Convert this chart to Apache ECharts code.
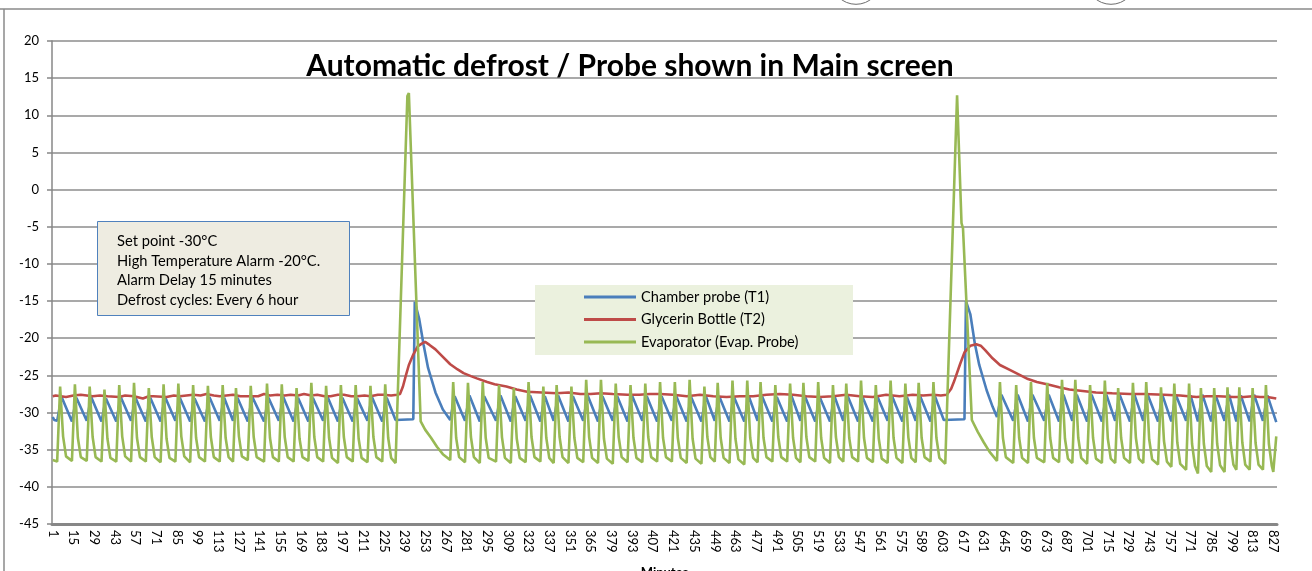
<!DOCTYPE html>
<html>
<head>
<meta charset="utf-8">
<title>Automatic defrost / Probe shown in Main screen</title>
<script src="https://cdn.jsdelivr.net/npm/echarts@6.0.0/dist/echarts.min.js"></script>
<style>
  html, body { margin: 0; padding: 0; background: #fff; }
  #chart { width: 1312px; height: 571px; }
</style>
</head>
<body>
<div id="chart"></div>
<script>
// minutes on the x axis (1 .. 829)
const minuteCount = 829
const minutes = Array.from({ length: minuteCount }, (_, i) => String(i + 1))

const yTicks = [-45, -40, -35, -30, -25, -20, -15, -10, -5, 0, 5, 10, 15, 20]

const seriesNames = ['Chamber probe (T1)', 'Glycerin Bottle (T2)', 'Evaporator (Evap. Probe)']

const noteLines = [
  'Set point -30°C',
  'High Temperature Alarm -20°C.',
  'Alarm Delay 15 minutes',
  'Defrost cycles: Every 6 hour'
]

// [minute, °C], turning points only
const chamberPts = [
  [1, -30.6], [2, -31.0], [4, -31.1], [7, -27.9],
  [14, -31.2], [17, -28.0], [24, -31.1], [27, -27.9], [34, -31.2], [37, -28.1], [44, -31.2], [47, -27.9],
  [54, -31.1], [57, -28.0], [64, -31.2], [67, -28.0], [74, -31.2], [77, -27.9], [84, -31.1], [87, -28.0],
  [94, -31.2], [97, -28.1], [104, -31.2], [107, -27.9], [114, -31.1], [117, -28.0], [123, -31.1], [126, -28.0],
  [133, -31.2], [136, -27.9], [144, -31.2], [147, -28.0], [154, -31.1], [157, -27.9], [164, -31.2], [167, -28.0],
  [174, -31.2], [177, -28.0], [184, -31.1], [187, -27.9], [194, -31.2], [197, -28.0], [204, -31.2], [207, -28.1],
  [214, -31.1], [217, -27.9], [224, -31.2], [227, -28.0],
  [233, -31.0], [245, -30.9], [246, -15.1], [247, -15.3], [249, -17.4], [252, -20.9], [255, -24.0],
  [260, -27.3], [265, -29.6], [270, -31.0], [273, -27.8],
  [280, -31.1], [283, -27.7], [290, -31.2], [293, -27.8], [301, -31.1], [304, -27.7], [311, -31.2], [314, -27.8],
  [321, -31.1], [324, -27.7], [331, -31.2], [334, -27.8], [340, -31.1], [343, -27.7], [350, -31.2], [353, -27.8],
  [360, -31.1], [363, -27.7], [370, -31.2], [373, -27.8], [380, -31.1], [383, -27.8], [390, -31.2], [393, -27.7],
  [400, -31.1], [403, -27.8], [410, -31.2], [413, -27.8], [420, -31.1], [423, -27.8], [430, -31.2], [433, -27.9],
  [440, -31.2], [443, -27.8], [449, -31.1], [452, -27.8], [459, -31.2], [462, -27.9], [469, -31.2], [472, -27.8],
  [478, -31.1], [481, -27.8], [488, -31.2], [491, -27.9], [498, -31.2], [501, -27.8], [507, -31.1], [510, -27.8],
  [517, -31.2], [520, -27.9], [527, -31.2], [530, -27.8], [536, -31.1], [539, -27.8], [546, -31.2], [549, -27.9],
  [556, -31.2], [559, -27.8], [566, -31.1], [569, -27.8], [576, -31.2], [579, -27.9], [585, -31.1], [588, -27.8],
  [595, -31.2], [598, -27.8],
  [604, -31.0], [618, -30.9], [619, -15.0], [620, -15.2], [622, -16.8], [625, -20.7], [628, -23.6],
  [633, -27.0], [637, -29.2], [640, -30.6], [643, -27.6],
  [651, -31.1], [654, -27.6], [661, -31.2], [664, -27.6], [672, -31.1], [675, -27.6], [682, -31.2], [685, -27.6],
  [691, -31.1], [694, -27.6], [701, -31.2], [704, -27.6], [711, -31.2], [714, -27.6], [720, -31.1], [723, -27.6],
  [730, -31.2], [733, -27.6], [739, -31.1], [742, -27.6], [749, -31.2], [752, -27.7], [758, -31.2], [761, -27.6],
  [768, -31.1], [771, -27.7], [776, -31.2], [779, -27.6], [785, -31.2], [788, -27.7], [794, -31.1], [797, -27.6],
  [802, -31.2], [805, -27.7], [811, -31.2], [814, -27.6], [820, -31.1], [823, -27.7], [829, -31.3]
]

const glycerinPts = [
  [1, -27.8], [3, -27.7], [10, -27.9], [15, -27.7], [20, -27.6], [28, -27.8], [33, -27.7], [38, -27.8],
  [46, -27.9], [50, -27.7], [56, -27.8], [62, -28.1], [66, -27.8], [69, -27.8], [78, -27.9], [83, -27.7],
  [87, -27.8], [96, -27.6], [101, -27.7], [105, -27.5], [110, -27.7], [114, -27.8], [123, -27.6], [128, -27.8],
  [132, -27.8], [140, -27.8], [144, -27.5], [148, -27.7], [153, -27.6], [158, -27.7], [162, -27.6], [167, -27.7],
  [171, -27.5], [176, -27.7], [180, -27.6], [185, -27.8], [189, -27.8], [194, -27.6], [198, -27.6], [203, -27.8],
  [207, -27.8], [212, -27.7], [216, -27.8], [221, -27.6], [225, -27.6], [230, -27.7], [234, -27.6], [236, -27.5],
  [238, -26.5], [240, -25.0], [242, -23.6], [245, -22.2], [248, -21.1], [251, -20.7], [253, -20.5], [256, -20.9],
  [260, -21.5], [264, -22.3], [270, -23.5], [275, -24.2], [279, -24.7], [284, -25.1], [288, -25.4], [295, -25.9],
  [300, -26.2], [308, -26.5], [315, -26.9], [322, -27.2], [332, -27.3], [342, -27.4], [350, -27.3], [358, -27.5],
  [365, -27.5], [372, -27.4], [380, -27.5], [390, -27.6], [398, -27.6], [405, -27.5], [412, -27.5], [421, -27.6],
  [430, -27.8], [439, -27.6], [448, -27.8], [457, -27.9], [466, -27.8], [475, -27.8], [484, -27.6], [493, -27.5],
  [502, -27.6], [511, -27.8], [520, -27.9], [529, -27.8], [538, -27.6], [547, -27.8], [556, -27.9], [565, -27.6],
  [574, -27.8], [583, -27.6], [590, -27.7], [597, -27.6], [602, -27.7], [606, -27.6],
  [609, -26.8], [611, -25.8], [615, -23.5], [618, -21.9], [622, -21.0], [626, -20.8], [629, -21.0], [632, -21.6],
  [637, -22.7], [642, -23.6], [649, -24.3], [656, -25.0], [661, -25.5], [667, -25.9], [676, -26.3], [682, -26.6],
  [689, -26.9], [698, -27.1], [707, -27.3], [718, -27.4], [730, -27.5], [740, -27.5], [753, -27.6], [764, -27.7],
  [775, -27.9], [782, -27.8], [790, -27.8], [800, -27.9], [807, -27.9], [813, -27.8], [818, -27.9], [823, -27.9],
  [829, -28.1]
]

const evapPts = [
  [1, -36.4], [4, -36.6],
  [6, -26.5], [8, -33.2], [10, -35.9], [14, -36.5],
  [16, -26.2], [18, -33.4], [20, -36.0], [24, -36.5],
  [26, -26.5], [28, -33.3], [30, -36.0], [34, -36.6],
  [36, -26.9], [38, -33.5], [40, -36.1], [44, -36.6],
  [46, -26.3], [48, -33.2], [50, -35.9], [54, -36.6],
  [56, -26.0], [58, -33.4], [60, -36.0], [64, -36.6],
  [66, -26.7], [68, -33.3], [70, -36.0], [74, -36.7],
  [76, -26.2], [78, -33.5], [80, -36.1], [84, -36.6],
  [86, -26.1], [88, -33.2], [90, -35.9], [94, -36.7],
  [96, -26.3], [98, -33.4], [100, -36.0], [104, -36.6],
  [106, -26.4], [108, -33.3], [110, -36.0], [114, -36.6],
  [116, -26.3], [118, -33.4], [120, -36.0], [123, -36.6],
  [125, -26.7], [127, -33.2], [129, -35.9], [133, -36.4],
  [135, -26.4], [137, -33.3], [139, -36.0], [144, -36.6],
  [146, -26.1], [148, -33.4], [150, -36.0], [154, -36.6],
  [156, -26.2], [158, -33.3], [160, -36.0], [164, -36.6],
  [166, -26.7], [168, -33.5], [170, -36.0], [174, -36.5],
  [176, -26.0], [178, -33.3], [180, -36.0], [184, -36.6],
  [186, -26.4], [188, -33.4], [190, -36.1], [194, -36.8],
  [196, -26.3], [198, -33.3], [200, -36.0], [204, -36.6],
  [206, -26.3], [208, -33.5], [210, -36.1], [214, -36.7],
  [216, -26.4], [218, -33.3], [220, -36.0], [224, -36.6],
  [226, -26.2], [228, -33.4], [230, -36.1], [233, -36.8],
  // first defrost
  [241, 12.6], [242, 13.0], [250, -31.2], [253, -32.3], [257, -33.4], [261, -34.6], [265, -35.6], [270, -36.4],
  [272, -25.9], [274, -33.4], [276, -36.0], [280, -36.7],
  [282, -26.0], [284, -33.3], [286, -36.0], [290, -36.8],
  [292, -25.9], [294, -33.4], [296, -36.1], [301, -36.6],
  [303, -26.3], [305, -33.3], [307, -36.1], [311, -36.8],
  [313, -26.7], [315, -33.5], [317, -36.1], [321, -36.7],
  [323, -25.9], [325, -33.3], [327, -36.0], [331, -36.6],
  [333, -26.5], [335, -33.4], [337, -36.1], [340, -36.8],
  [342, -26.3], [344, -33.3], [346, -36.0], [350, -36.8],
  [352, -26.5], [354, -33.4], [356, -36.1], [360, -36.7],
  [362, -25.6], [364, -33.3], [366, -36.1], [370, -36.8],
  [372, -25.6], [374, -33.5], [376, -36.2], [380, -36.9],
  [382, -26.1], [384, -33.3], [386, -36.0], [390, -36.7],
  [392, -26.3], [394, -33.4], [396, -36.1], [400, -36.7],
  [402, -26.1], [404, -33.3], [406, -36.0], [410, -36.6],
  [412, -25.9], [414, -33.4], [416, -36.0], [420, -36.6],
  [422, -25.9], [424, -33.4], [426, -36.1], [430, -36.8],
  [432, -25.6], [434, -33.5], [436, -36.2], [440, -36.9],
  [442, -26.5], [444, -33.3], [446, -36.0], [449, -36.6],
  [451, -26.0], [453, -33.4], [455, -36.1], [459, -36.8],
  [461, -25.7], [463, -33.5], [465, -36.3], [469, -37.0],
  [471, -25.7], [473, -33.4], [475, -36.1], [478, -36.7],
  [480, -25.9], [482, -33.4], [484, -36.0], [488, -36.6],
  [490, -26.3], [492, -33.3], [494, -36.0], [498, -36.6],
  [500, -26.1], [502, -33.4], [504, -36.1], [507, -36.7],
  [509, -26.0], [511, -33.3], [513, -36.0], [517, -36.6],
  [519, -25.9], [521, -33.4], [523, -36.1], [527, -36.8],
  [529, -26.3], [531, -33.3], [533, -36.0], [536, -36.6],
  [538, -26.1], [540, -33.4], [542, -36.0], [546, -36.6],
  [548, -25.7], [550, -33.4], [552, -36.1], [556, -36.7],
  [558, -26.3], [560, -33.5], [562, -36.2], [566, -36.8],
  [568, -25.7], [570, -33.4], [572, -36.1], [576, -36.8],
  [578, -26.1], [580, -33.3], [582, -36.1], [585, -36.7],
  [587, -26.0], [589, -33.4], [591, -36.0], [595, -36.6],
  [597, -25.9], [599, -33.4], [601, -36.1], [605, -36.9],
  // second defrost
  [613, 12.7], [616, -4.5], [617, -5.2], [623, -31.0], [627, -32.6], [631, -34.0], [635, -35.3], [640, -36.5],
  [642, -25.9], [644, -33.4], [646, -36.0], [651, -36.8],
  [653, -26.3], [655, -33.4], [657, -36.1], [661, -36.8],
  [663, -25.9], [665, -33.4], [667, -36.1], [672, -36.7],
  [674, -26.0], [676, -33.4], [678, -36.1], [682, -36.7],
  [684, -25.6], [686, -33.5], [688, -36.2], [691, -36.8],
  [693, -25.6], [695, -33.4], [697, -36.1], [701, -36.9],
  [703, -26.3], [705, -33.4], [707, -36.2], [711, -36.8],
  [713, -25.7], [715, -33.5], [717, -36.2], [720, -36.8],
  [722, -26.7], [724, -33.4], [726, -36.1], [730, -36.8],
  [732, -26.0], [734, -33.4], [736, -36.2], [739, -36.8],
  [741, -25.9], [743, -33.6], [745, -36.3], [749, -37.0],
  [751, -26.6], [753, -33.8], [755, -36.6], [758, -37.3],
  [760, -26.1], [762, -34.0], [764, -36.9], [768, -37.7],
  [770, -26.1], [772, -34.2], [774, -37.2], [776, -38.2],
  [778, -26.7], [780, -34.2], [782, -37.2], [785, -38.0],
  [787, -26.7], [789, -34.2], [791, -37.1], [794, -38.0],
  [796, -26.6], [798, -34.0], [800, -37.0], [802, -37.7],
  [804, -26.6], [806, -34.0], [808, -37.0], [811, -37.7],
  [813, -26.7], [815, -34.1], [817, -37.0], [820, -37.7],
  [822, -26.3], [824, -34.2], [826, -37.2], [827, -38.0],
  [829, -33.2]
]

const colors = ['#4a7ebb', '#be4b48', '#98b954']
const font = 'Lato, "Open Sans", sans-serif'

// category axis takes the index, minute 1 -> index 0
function toIndex(pts) {
  return pts.map(p => [p[0] - 1, p[1]])
}

const chart = echarts.init(document.getElementById('chart'), null, { renderer: 'canvas' })

chart.setOption({
  animation: false,
  backgroundColor: '#fff',
  textStyle: { fontFamily: font },
  grid: { left: 52, right: 35, top: 41, bottom: 47, containLabel: false, outerBoundsMode: 'none' },
  legend: {
    data: seriesNames,
    orient: 'vertical',
    left: 584,
    top: 289,
    padding: 0,
    itemGap: 6.5,
    itemWidth: 52,
    itemHeight: 3,
    icon: 'rect',
    textStyle: { fontFamily: font, fontSize: 14.6, color: '#000', lineHeight: 16 },
    z: 5
  },
  xAxis: {
    type: 'category',
    data: minutes,
    boundaryGap: true,
    name: 'Minutes',
    nameLocation: 'middle',
    nameGap: 42,
    nameTextStyle: { fontFamily: font, fontSize: 13, fontWeight: 'bold', color: '#000' },
    axisLine: { onZero: false, lineStyle: { color: '#878787', width: 3 } },
    axisTick: { show: false },
    axisLabel: {
      interval: 13,
      rotate: -90,
      margin: 6,
      fontFamily: font,
      fontSize: 13,
      color: '#000'
    },
    splitLine: { show: false }
  },
  yAxis: {
    type: 'value',
    min: yTicks[0],
    max: yTicks[yTicks.length - 1],
    interval: 5,
    axisLine: { show: true, lineStyle: { color: '#878787', width: 1.5 } },
    axisTick: { show: true, length: 5, lineStyle: { color: '#878787', width: 1.5 } },
    axisLabel: { margin: 13, fontFamily: font, fontSize: 13, color: '#000' },
    splitLine: { show: true, lineStyle: { color: '#8c8c8c', width: 1.5 } }
  },
  series: [
    {
      name: seriesNames[0],
      type: 'line',
      data: toIndex(chamberPts),
      symbol: 'none',
      color: colors[0],
      lineStyle: { width: 2.6, color: colors[0] },
      z: 2
    },
    {
      name: seriesNames[1],
      type: 'line',
      data: toIndex(glycerinPts),
      symbol: 'none',
      color: colors[1],
      lineStyle: { width: 2.6, color: colors[1] },
      z: 3
    },
    {
      name: seriesNames[2],
      type: 'line',
      data: toIndex(evapPts),
      symbol: 'none',
      color: colors[2],
      lineStyle: { width: 2.6, color: colors[2] },
      z: 4
    }
  ],
  graphic: [
    // chart area frame
    { type: 'line', z: 1, shape: { x1: 0, y1: 9, x2: 1312, y2: 9 }, style: { stroke: '#8a8a8a', lineWidth: 1.5 } },
    { type: 'line', z: 1, shape: { x1: 4, y1: 9, x2: 4, y2: 571 }, style: { stroke: '#8a8a8a', lineWidth: 1.5 } },
    // handles cut off at the top
    { type: 'circle', z: 1, shape: { cx: 856, cy: -20.7, r: 25 }, style: { fill: '#fff', stroke: '#6d6d6d', lineWidth: 1 } },
    { type: 'circle', z: 1, shape: { cx: 1111, cy: -20.7, r: 25 }, style: { fill: '#fff', stroke: '#6d6d6d', lineWidth: 1 } },
    {
      type: 'text',
      z: 6,
      style: {
        text: 'Automatic defrost / Probe shown in Main screen',
        x: 630,
        y: 66,
        align: 'center',
        verticalAlign: 'middle',
        fontFamily: font,
        fontSize: 30,
        fontWeight: 'bold',
        fill: '#000'
      }
    },
    // note box
    {
      type: 'rect',
      z: 5,
      shape: { x: 97.5, y: 221.5, width: 252, height: 94 },
      style: { fill: '#eeece1', stroke: '#4f81bd', lineWidth: 1 }
    },
    {
      type: 'text',
      z: 6,
      style: {
        text: noteLines.join('\n'),
        x: 117,
        y: 232,
        verticalAlign: 'top',
        lineHeight: 19.5,
        fontFamily: font,
        fontSize: 14.7,
        fill: '#000'
      }
    },
    // legend background
    {
      type: 'rect',
      z: 3,
      shape: { x: 535, y: 285, width: 318, height: 70 },
      style: { fill: '#ebf1de' }
    }
  ]
})
</script>
</body>
</html>
